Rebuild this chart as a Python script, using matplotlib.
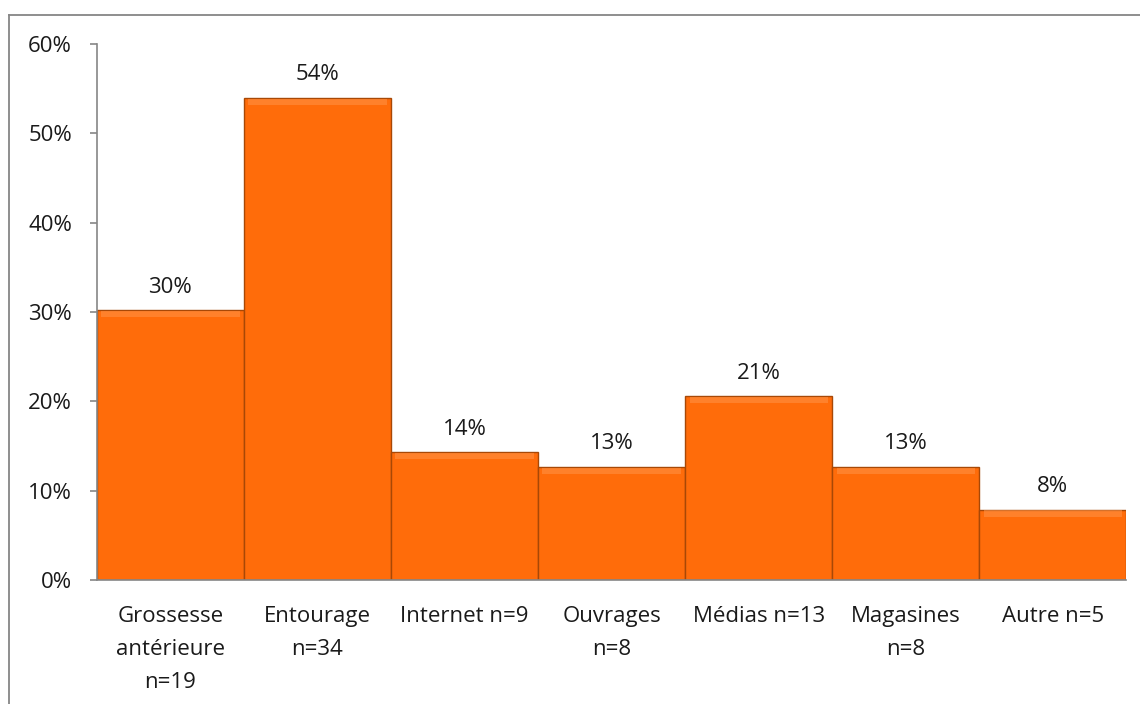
import matplotlib.pyplot as plt
import matplotlib.patches as mpatches
from matplotlib.lines import Line2D
from matplotlib.ticker import FuncFormatter

categories = [
    "Grossesse\nantérieure\nn=19",
    "Entourage\nn=34",
    "Internet n=9",
    "Ouvrages\nn=8",
    "Médias n=13",
    "Magasines\nn=8",
    "Autre n=5",
]
values = [30.2, 54.0, 14.3, 12.7, 20.6, 12.7, 7.9]
value_labels = ["30%", "54%", "14%", "13%", "21%", "13%", "8%"]
yticks = [0, 10, 20, 30, 40, 50, 60]

plt.rcParams["font.family"] = ["Open Sans", "DejaVu Sans"]
FS = 16

fig = plt.figure(figsize=(11.4, 7.04), dpi=100)
ax = fig.add_axes([0.085, 0.176, 0.903, 0.7615])

x = list(range(len(categories)))
bars = ax.bar(x, values, width=1.0, color="#FF6C0A", edgecolor="#A84806", linewidth=1.0)

# soft lighter bevel along the top of each bar
for b in bars:
    h = b.get_height()
    ax.add_patch(mpatches.Rectangle((b.get_x() + 0.03, h - 0.8), b.get_width() - 0.06, 0.7,
                                    facecolor="#FF9448", edgecolor="none", alpha=0.55))

for xi, v, lab in zip(x, values, value_labels):
    ax.annotate(lab, (xi, v), xytext=(0, 9), textcoords="offset points",
                ha="center", va="bottom", fontsize=FS, color="#1a1a1a")

ax.set_xlim(-0.5, len(categories) - 0.5)
ax.set_ylim(0, 60)
ax.set_yticks(yticks)
ax.yaxis.set_major_formatter(FuncFormatter(lambda v, p: f"{v:.0f}%"))
ax.set_xticks(x)
ax.set_xticklabels(categories, fontsize=FS, color="#1a1a1a", linespacing=1.75)
ax.tick_params(axis="x", length=0, pad=19)
ax.tick_params(axis="y", labelsize=FS, labelcolor="#1a1a1a", color="#868686",
               length=5, width=1.2, pad=13)

for s in ["top", "right"]:
    ax.spines[s].set_visible(False)
for s in ["left", "bottom"]:
    ax.spines[s].set_color("#868686")
    ax.spines[s].set_linewidth(1.2)

# chart area border (top and left edges visible)
fig.add_artist(Line2D([9 / 1140, 9 / 1140], [0, 1 - 15 / 704], transform=fig.transFigure,
                      color="#868686", linewidth=1.3))
fig.add_artist(Line2D([9 / 1140, 1], [1 - 15 / 704, 1 - 15 / 704], transform=fig.transFigure,
                      color="#868686", linewidth=1.3))

fig.savefig("out.png", dpi=100)
